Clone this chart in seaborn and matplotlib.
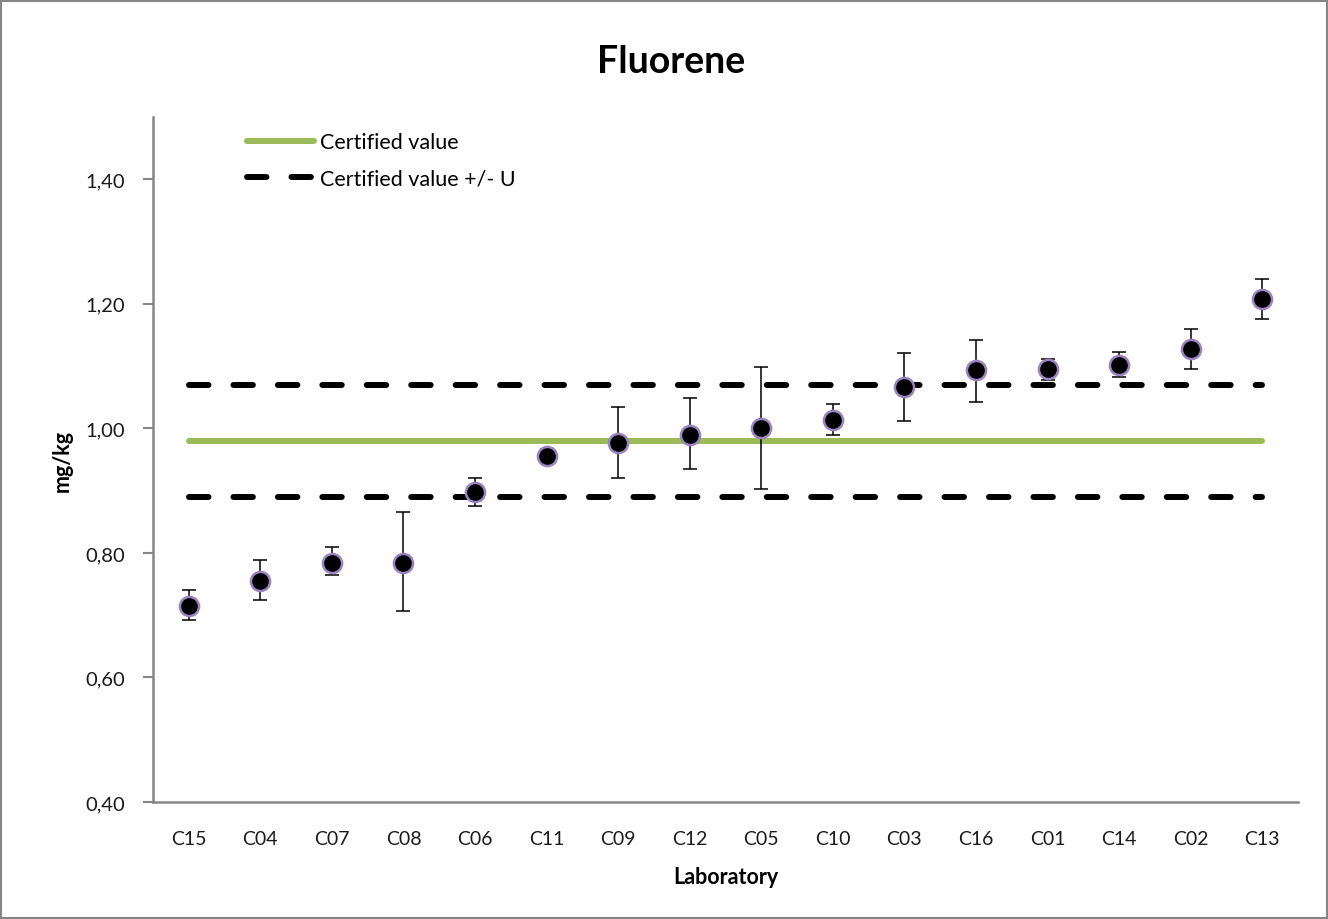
import numpy as np
import pandas as pd
import seaborn as sns
import matplotlib.pyplot as plt
from matplotlib.patches import Rectangle

labs = ['C15', 'C04', 'C07', 'C08', 'C06', 'C11', 'C09', 'C12',
        'C05', 'C10', 'C03', 'C16', 'C01', 'C14', 'C02', 'C13']
means = [0.714, 0.755, 0.784, 0.784, 0.898, 0.955, 0.976, 0.990,
         1.000, 1.014, 1.066, 1.093, 1.095, 1.102, 1.128, 1.208]
upper = [0.741, 0.789, 0.809, 0.866, 0.920, 0.967, 1.035, 1.049,
         1.099, 1.039, 1.121, 1.142, 1.111, 1.123, 1.160, 1.240]
lower = [0.692, 0.725, 0.764, 0.706, 0.875, 0.944, 0.920, 0.934,
         0.903, 0.990, 1.012, 1.043, 1.078, 1.082, 1.095, 1.176]
cert = 0.98
unc = 0.09

sns.set_style("white")
plt.rcParams['font.family'] = ['Lato', 'DejaVu Sans']
plt.rcParams['lines.scale_dashes'] = False
plt.rcParams['text.color'] = 'black'
plt.rcParams['axes.labelcolor'] = 'black'

df = pd.DataFrame({'lab': labs, 'pos': np.arange(len(labs)), 'val': means,
                   'lo': lower, 'hi': upper})
lines = pd.DataFrame({'pos': [0, len(labs) - 1]})

fig = plt.figure(figsize=(13.28, 9.2), dpi=100)
ax = fig.add_axes([0.1152, 0.1272, 0.8622, 0.7445])

# reference lines
sns.lineplot(x=lines['pos'], y=[cert, cert], ax=ax, color='#9BBB59', lw=4.3,
             solid_capstyle='round', label='Certified value')
sns.lineplot(x=lines['pos'], y=[cert + unc] * 2, ax=ax, color='black', lw=4.3,
             label='Certified value +/- U')
sns.lineplot(x=lines['pos'], y=[cert - unc] * 2, ax=ax, color='black', lw=4.3,
             label='_nolegend_')
for ln in ax.lines[1:]:
    ln.set_linestyle((0, (14, 18)))
    ln.set_dash_capstyle('round')

# lab results with error bars
ax.errorbar(df['pos'], df['val'], yerr=[df['val'] - df['lo'], df['hi'] - df['val']],
            fmt='none', ecolor='black', elinewidth=1.1, capsize=5, capthick=1.1, zorder=3)
sns.scatterplot(data=df, x='pos', y='val', ax=ax, s=190, color='black',
                edgecolor='#9A83C0', linewidth=1.8, zorder=4, legend=False)

ax.set_xlim(-0.5, len(labs) - 0.5)
ax.set_ylim(0.4, 1.5)
ax.set_xticks(df['pos'])
ax.set_xticklabels(labs)
yt = [0.4, 0.6, 0.8, 1.0, 1.2, 1.4]
ax.set_yticks(yt)
ax.set_yticklabels([f'{v:.2f}'.replace('.', ',') for v in yt])
ax.tick_params(axis='x', length=0, pad=20, labelsize=14, colors='#1a1a1a')
ax.tick_params(axis='y', length=7, width=1.5, color='#868686', pad=13,
               labelsize=14.5, labelcolor='#1a1a1a', direction='out')
ax.yaxis.set_tick_params(left=True)
for s in ['top', 'right']:
    ax.spines[s].set_visible(False)
for s in ['left', 'bottom']:
    ax.spines[s].set_color('#868686')
    ax.spines[s].set_linewidth(1.8)

ax.set_xlabel('Laboratory', fontsize=15.5, fontweight='bold', labelpad=14)
ax.set_ylabel('mg/kg', fontsize=15.5, fontweight='bold', labelpad=9)
fig.text(0.505, 0.9207, 'Fluorene', ha='center', va='baseline', fontsize=27,
         fontweight='bold')

leg = ax.legend(loc='upper left', bbox_to_anchor=(0.065, 1.006), frameon=False,
                fontsize=15.5, handlelength=3.1, handletextpad=0.3, labelspacing=0.75)
for h in leg.get_lines():
    h.set_linewidth(4.3)

fig.patches.append(Rectangle((0.001, 0.001), 0.998, 0.997, transform=fig.transFigure,
                             fill=False, edgecolor='#868686', lw=1.5))

fig.savefig('out.png', dpi=100)
